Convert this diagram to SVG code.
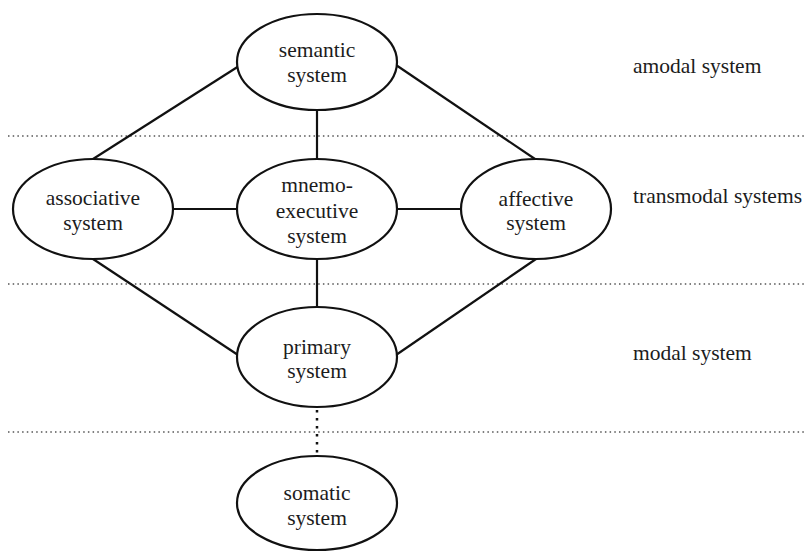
<svg xmlns="http://www.w3.org/2000/svg" width="806" height="552" viewBox="0 0 806 552" font-family="Liberation Serif, Times New Roman, serif">
<style>
.node ellipse{fill:#fff;stroke:#111;stroke-width:2.2}
text{font-size:21.5px;fill:#1c1c1c}
.node text{text-anchor:middle}
.edge{stroke:#111;stroke-width:2.2;fill:none}
.sep{stroke:#555;stroke-width:1.3;stroke-dasharray:1.5 3.2;fill:none}
.dot{stroke:#111;stroke-width:2.5;stroke-dasharray:2.5 5.5;fill:none}
</style>
<rect width="806" height="552" fill="#fff"/>
<g id="separators">
<line class="sep" x1="8" y1="136" x2="806" y2="136"/>
<line class="sep" x1="8" y1="284" x2="806" y2="284"/>
<line class="sep" x1="8" y1="432" x2="806" y2="432"/>
</g>
<g id="connectors">
<line class="edge" x1="93" y1="159" x2="239" y2="66"/>
<line class="edge" x1="535" y1="159" x2="396" y2="65"/>
<line class="edge" x1="317" y1="110" x2="317" y2="159"/>
<line class="edge" x1="173" y1="209" x2="237" y2="209"/>
<line class="edge" x1="397" y1="209" x2="461" y2="209"/>
<line class="edge" x1="317" y1="259" x2="317" y2="307"/>
<line class="edge" x1="93" y1="259" x2="238" y2="355"/>
<line class="edge" x1="536" y1="259" x2="396" y2="355"/>
<line class="dot" x1="317" y1="410" x2="317" y2="455"/>
</g>
<g id="semantic" class="node">
<ellipse cx="317" cy="62" rx="80" ry="48"/>
<text x="317" y="57" style="font-family:'Liberation Serif',serif">semantic</text>
<text x="317" y="82" style="font-family:'Liberation Serif',serif">system</text>
</g>
<g id="associative" class="node">
<ellipse cx="93" cy="209" rx="80" ry="50"/>
<text x="93" y="205" style="font-family:'Liberation Serif',serif">associative</text>
<text x="93" y="230" style="font-family:'Liberation Serif',serif">system</text>
</g>
<g id="mnemo" class="node">
<ellipse cx="317" cy="209" rx="80" ry="50"/>
<text x="317" y="192" style="font-family:'Liberation Serif',serif">mnemo-</text>
<text x="317" y="218" style="font-family:'Liberation Serif',serif">executive</text>
<text x="317" y="243" style="font-family:'Liberation Serif',serif">system</text>
</g>
<g id="affective" class="node">
<ellipse cx="536" cy="209" rx="75" ry="50"/>
<text x="536" y="206" style="font-family:'Liberation Serif',serif">affective</text>
<text x="536" y="230" style="font-family:'Liberation Serif',serif">system</text>
</g>
<g id="primary" class="node">
<ellipse cx="317" cy="357" rx="80" ry="50"/>
<text x="317" y="354" style="font-family:'Liberation Serif',serif">primary</text>
<text x="317" y="378" style="font-family:'Liberation Serif',serif">system</text>
</g>
<g id="somatic" class="node">
<ellipse cx="317" cy="503" rx="80" ry="47"/>
<text x="317" y="500" style="font-family:'Liberation Serif',serif">somatic</text>
<text x="317" y="525" style="font-family:'Liberation Serif',serif">system</text>
</g>
<g id="levels">
<text x="633" y="73" style="font-family:'Liberation Serif',serif">amodal system</text>
<text x="633" y="203" style="font-family:'Liberation Serif',serif">transmodal systems</text>
<text x="633" y="360" style="font-family:'Liberation Serif',serif">modal system</text>
</g>
</svg>
